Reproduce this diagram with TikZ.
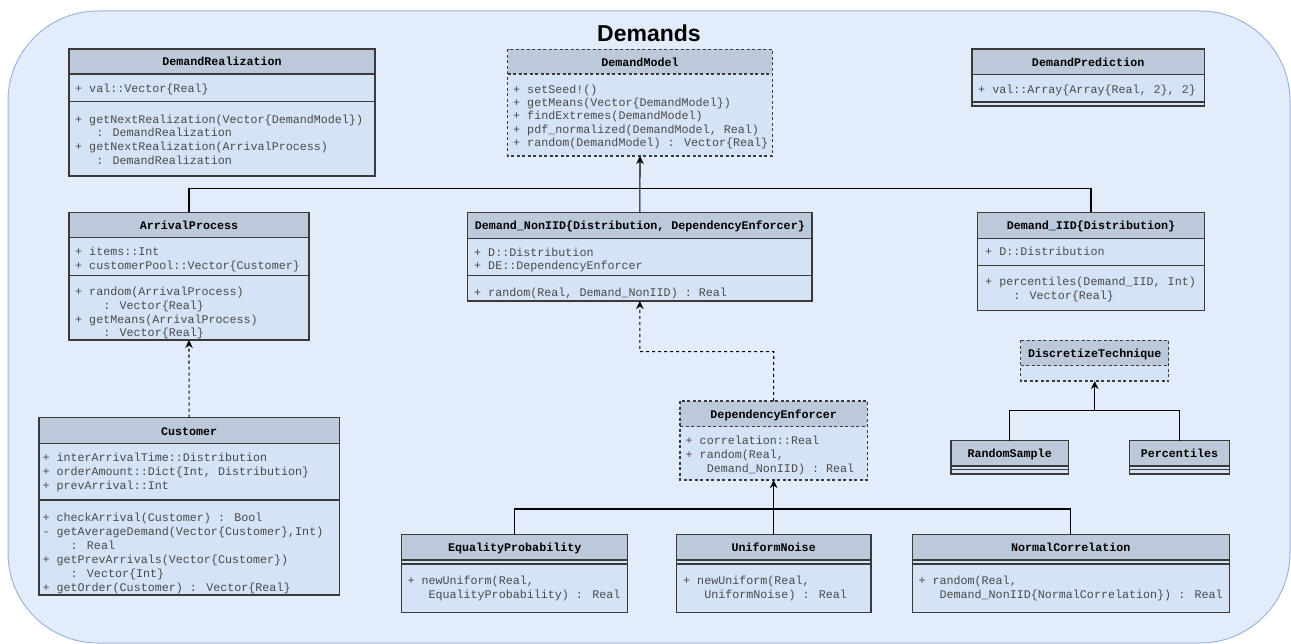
\documentclass[tikz,border=0pt]{standalone}
\usepackage{fontspec}
\setmainfont{Liberation Sans}
\newfontfamily\monof{Liberation Mono}
\usetikzlibrary{arrows.meta,fit}

\definecolor{contfill}{HTML}{E2ECFB}
\definecolor{contline}{HTML}{9DB6DE}
\definecolor{bodyfill}{HTML}{D5E3F6}
\definecolor{hdrfill}{HTML}{BCC9DA}
\definecolor{outl}{HTML}{3A3A3A}
\definecolor{txtc}{HTML}{4A4A4A}

% uniform line height for member lists
\newcommand\lst{\vrule height 10pt depth 2.5pt width 0pt}

\tikzset{
  boxline/.style={draw=outl, line width=1.1pt},
  dashline/.style={boxline, dash pattern=on 3pt off 2.5pt},
  hdrtext/.style={font=\monof\fontsize{11.7pt}{13.8pt}\selectfont\bfseries,
    anchor=base, inner sep=0pt, text=black},
  memb/.style={font=\monof\fontsize{11.7pt}{#1}\selectfont,
    anchor=north west, inner sep=0pt, align=left, text=txtc},
  memb/.default=13.8pt,
  conn/.style={draw=black, line width=1.1pt},
  arr/.style={conn, -{Stealth[length=8pt,width=7.5pt,inset=2.5pt]}},
  dasharr/.style={arr, dash pattern=on 3pt off 3pt},
}

% class box: name, outline style, left, top, right, bottom, header bottom, title
\newcommand\umlclass[8]{%
  \node[fit={(#3,#4)(#5,#6)}, inner sep=0pt, outer sep=0pt, fill=bodyfill] (#1) {};
  \fill[hdrfill] (#3,#4) rectangle (#5,#7);
  \draw[#2] (#3,#7) -- (#5,#7);
  \draw[#2] (#1.north west) rectangle (#1.south east);
  \node[hdrtext] (#1-title) at ({(#3+#5)/2},{(#4+#7)/2+4.5}) {#8};
}

\begin{document}
\begin{tikzpicture}[x=1pt,y=-1pt]
\useasboundingbox (0,0) rectangle (1291,644);

% package frame
\node[fit={(8,11)(1290,643)}, inner sep=0pt, draw=contline, fill=contfill,
  line width=1pt, rounded corners=90pt] (demands) {};
\node[font=\fontsize{23pt}{26pt}\selectfont\bfseries, anchor=base, inner sep=0pt]
  (title) at (649,41.7) {Demands};

% DemandRealization
\umlclass{dr}{boxline}{69}{49}{375}{176}{74}{DemandRealization}
\draw[boxline] (69,101.7) -- (375,101.7);
\node[memb] (dr-attr) at (75,82.7) {\lst + val::Vector\{Real\}};
\node[memb] (dr-ops) at (75,113) {\lst + getNextRealization(Vector\{DemandModel\})\\
  \lst ~~~: DemandRealization\\
  \lst + getNextRealization(ArrivalProcess)\\
  \lst ~~~: DemandRealization};

% DemandModel
\umlclass{dm}{dashline}{507.7}{49.3}{772.3}{156}{74}{DemandModel}
\node[memb=13.4pt] (dm-ops) at (513,83) {\lst + setSeed!()\\
  \lst + getMeans(Vector\{DemandModel\})\\
  \lst + findExtremes(DemandModel)\\
  \lst + pdf\_normalized(DemandModel, Real)\\
  \lst + random(DemandModel) : Vector\{Real\}};

% DemandPrediction
\umlclass{dp}{boxline}{972}{49}{1204.3}{106}{74.7}{DemandPrediction}
\draw[boxline] (972,102) -- (1204.3,102);
\node[memb] (dp-attr) at (978,83) {\lst + val::Array\{Array\{Real, 2\}, 2\}};

% ArrivalProcess
\umlclass{ap}{boxline}{69}{212.3}{309}{340}{237.7}{ArrivalProcess}
\draw[boxline] (69,275.3) -- (309,275.3);
\node[memb] (ap-attr) at (75,245.4) {\lst + items::Int\\
  \lst + customerPool::Vector\{Customer\}};
\node[memb] (ap-ops) at (75,285.4) {\lst + random(ArrivalProcess)\\
  \lst ~~~~: Vector\{Real\}\\
  \lst + getMeans(ArrivalProcess)\\
  \lst ~~~~: Vector\{Real\}};

% Demand_NonIID
\umlclass{nid}{boxline}{467.7}{212.3}{812}{301}{238.3}{Demand\_NonIID\{Distribution, DependencyEnforcer\}}
\draw[boxline] (467.7,275.7) -- (812,275.7);
\node[memb=13.4pt] (nid-attr) at (474,246) {\lst + D::Distribution\\
  \lst + DE::DependencyEnforcer};
\node[memb] (nid-ops) at (474,286) {\lst + random(Real, Demand\_NonIID) : Real};

% Demand_IID
\umlclass{iid}{boxline}{977.7}{212.3}{1204.3}{310.7}{238.3}{Demand\_IID\{Distribution\}}
\draw[boxline] (977.7,265.7) -- (1204.3,265.7);
\node[memb] (iid-attr) at (985,245.4) {\lst + D::Distribution};
\node[memb=14pt] (iid-ops) at (985,275.4) {\lst + percentiles(Demand\_IID, Int)\\
  \lst ~~~~: Vector\{Real\}};

% DiscretizeTechnique and its variants
\umlclass{dt}{dashline}{1020.7}{340.3}{1168.7}{381}{365.7}{DiscretizeTechnique}
\umlclass{rs}{boxline}{951}{440.7}{1068.3}{474}{466}{RandomSample}
\draw[boxline] (951,469.5) -- (1068.3,469.5);
\umlclass{pc}{boxline}{1129.7}{440.7}{1229.3}{474}{466}{Percentiles}
\draw[boxline] (1129.7,469.5) -- (1229.3,469.5);

% DependencyEnforcer
\umlclass{de}{dashline}{680}{401}{867.3}{480}{426.7}{DependencyEnforcer}
\node[memb=14pt] (de-ops) at (685.5,434.4) {\lst + correlation::Real\\
  \lst + random(Real,\\
  \lst ~~~Demand\_NonIID) : Real};

% Customer
\umlclass{cu}{boxline}{39}{417.7}{339.3}{595}{443.3}{Customer}
\draw[boxline] (39,500) -- (339.3,500);
\node[memb] (cu-attr) at (42.3,451.4) {\lst + interArrivalTime::Distribution\\
  \lst + orderAmount::Dict\{Int, Distribution\}\\
  \lst + prevArrival::Int};
\node[memb=13.9pt] (cu-ops) at (42.3,511.4) {\lst + checkArrival(Customer) : Bool\\
  \lst - getAverageDemand(Vector\{Customer\},Int)\\
  \lst ~~~~: Real\\
  \lst + getPrevArrivals(Vector\{Customer\})\\
  \lst ~~~~: Vector\{Int\}\\
  \lst + getOrder(Customer) : Vector\{Real\}};

% EqualityProbability, UniformNoise, NormalCorrelation
\umlclass{ep}{boxline}{401.7}{534.7}{627.7}{612.7}{560}{EqualityProbability}
\draw[boxline] (401.7,564) -- (627.7,564);
\node[memb=13.4pt] (ep-ops) at (407.3,574.7) {\lst + newUniform(Real,\\
  \lst ~~~EqualityProbability) : Real};

\umlclass{un}{boxline}{676.3}{534.7}{871}{612.7}{560}{UniformNoise}
\draw[boxline] (676.3,564) -- (871,564);
\node[memb=13.4pt] (un-ops) at (683,574.7) {\lst + newUniform(Real,\\
  \lst ~~~UniformNoise) : Real};

\umlclass{nc}{boxline}{912.3}{534.7}{1229.3}{612.7}{560}{NormalCorrelation}
\draw[boxline] (912.3,564) -- (1229.3,564);
\node[memb=13.4pt] (nc-ops) at (918.3,574.7) {\lst + random(Real,\\
  \lst ~~~Demand\_NonIID\{NormalCorrelation\}) : Real};

% connectors
\coordinate (busTop) at (640,188.3);
\draw[conn] (ap.north) |- (busTop) -| (iid.north);
\draw[arr] (nid.north) -- (dm.south);

\draw[dasharr] (cu.north) -- (ap.south);

\coordinate (deBend) at (773.7,351.7);
\draw[dasharr] (de.north) -- (deBend) -| (nid.south);

\coordinate (busBot) at (773.7,509);
\draw[conn] (ep.north) |- (busBot) -| (nc.north);
\draw[arr] (un.north) -- (de.south);

\coordinate (busDisc) at (1094.7,410.7);
\draw[conn] (rs.north) |- (busDisc) -| (pc.north);
\draw[arr] (busDisc) -- (dt.south);
\end{tikzpicture}
\end{document}
